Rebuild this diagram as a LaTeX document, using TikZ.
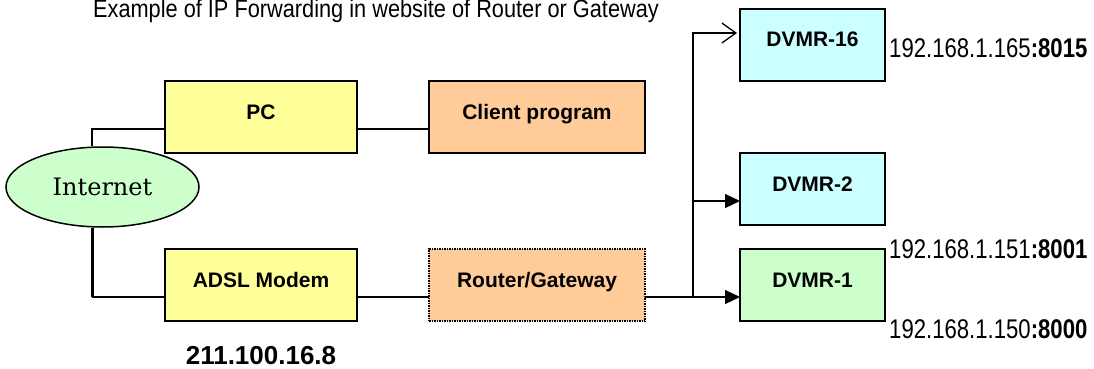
\documentclass[tikz,border=0pt]{standalone}
\usepackage{fontspec}
\usepackage{xcolor}
\usepackage{tikz}
\usetikzlibrary{positioning,shapes.geometric}
\usetikzlibrary{arrows.meta}
\newfontfamily\arialface{Liberation Sans}
\newfontfamily\narrowface[FakeStretch=0.82]{Liberation Sans}
\newfontfamily\titleface[FakeStretch=0.87]{Liberation Sans}
\newfontfamily\cloudface{DejaVu Serif}
\definecolor{padyellow}{HTML}{FFFF99}
\definecolor{padorange}{HTML}{FFCC99}
\definecolor{padcyan}{HTML}{CCFFFF}
\definecolor{padgreen}{HTML}{CCFFCC}
\tikzset{>={Triangle[length=15pt,width=14pt]}}
\tikzstyle{plain-box}=[rectangle, draw=black, line width=1.5pt, outer sep=0pt, minimum height=72pt, text height=15pt, text depth=11pt, font={\arialface\bfseries\fontsize{21}{25}\selectfont}]
\tikzstyle{ip-label}=[anchor=base west, inner sep=0pt, font={\narrowface\fontsize{27}{30}\selectfont}]
\tikzstyle{wire}=[line width=1.3pt]

\begin{document}
\begin{tikzpicture}[x=1pt, y=-1pt, node distance=72pt]
	\useasboundingbox (0,0) rectangle (1094,369);

	\node[anchor=base, inner sep=0pt, font={\titleface\fontsize{25}{28}\selectfont}] (title) at (376,18) {Example of IP Forwarding in website of Router or Gateway};

	\node[plain-box, fill=padyellow, minimum width=192pt] (pc) at (261,117) {PC};
	\node[plain-box, fill=padorange, minimum width=216pt] (client) [right=of pc] {Client program};
	\node[plain-box, fill=padyellow, minimum width=192pt] (modem) [below=96pt of pc] {ADSL Modem};
	\node[plain-box, fill=padorange, densely dotted, minimum width=216pt] (router) [right=of modem] {Router/Gateway};

	\node[plain-box, fill=padgreen, minimum width=145pt] (dvmr1) [right=95pt of router] {DVMR-1};
	\node[plain-box, fill=padcyan, minimum width=145pt] (dvmr2) [above=24pt of dvmr1] {DVMR-2};
	\node[plain-box, fill=padcyan, minimum width=145pt] (dvmr16) [above=of dvmr2] {DVMR-16};

	\node[ellipse, draw=black, fill=padgreen, line width=1.5pt, minimum width=193pt, minimum height=80pt, inner sep=0pt, font={\cloudface\fontsize{24}{28}\selectfont}] (internet) at (102.5,187) {Internet};

	\node[ip-label] (ip16) at (889,57) {192.168.1.165\textbf{:8015}};
	\node[ip-label] (ip1) at (889,258) {192.168.1.151\textbf{:8001}};
	\node[ip-label] (ip0) at (889,338) {192.168.1.150\textbf{:8000}};
	\node[anchor=base, inner sep=0pt, font={\arialface\bfseries\fontsize{26}{30}\selectfont}] (wanip) at (261,364) {211.100.16.8};

	\coordinate (drop) at (92,297);
	\coordinate (split) at (693,297);

	\draw[wire] ([yshift=-12pt]pc.west) -| ([xshift=-10.5pt]internet.north);
	\draw[line width=3pt] ([xshift=-10.5pt]internet.south) -- (drop);
	\draw[wire] (drop) -- ([yshift=-12pt]modem.west);
	\draw[wire] ([yshift=-12pt]pc.east) -- ([yshift=-12pt]client.west);
	\draw[wire] ([yshift=-12pt]modem.east) -- ([yshift=-12pt]router.west);
	\draw[wire, ->] ([yshift=-12pt]router.east) -- ([yshift=-12pt]dvmr1.west);
	\draw[wire, ->] (split) |- ([yshift=-12pt]dvmr2.west);
	\draw[wire, -{Straight Barb[length=14pt,width=20pt]}, shorten >=3pt] (split) |- ([yshift=12pt]dvmr16.west);
\end{tikzpicture}
\end{document}
